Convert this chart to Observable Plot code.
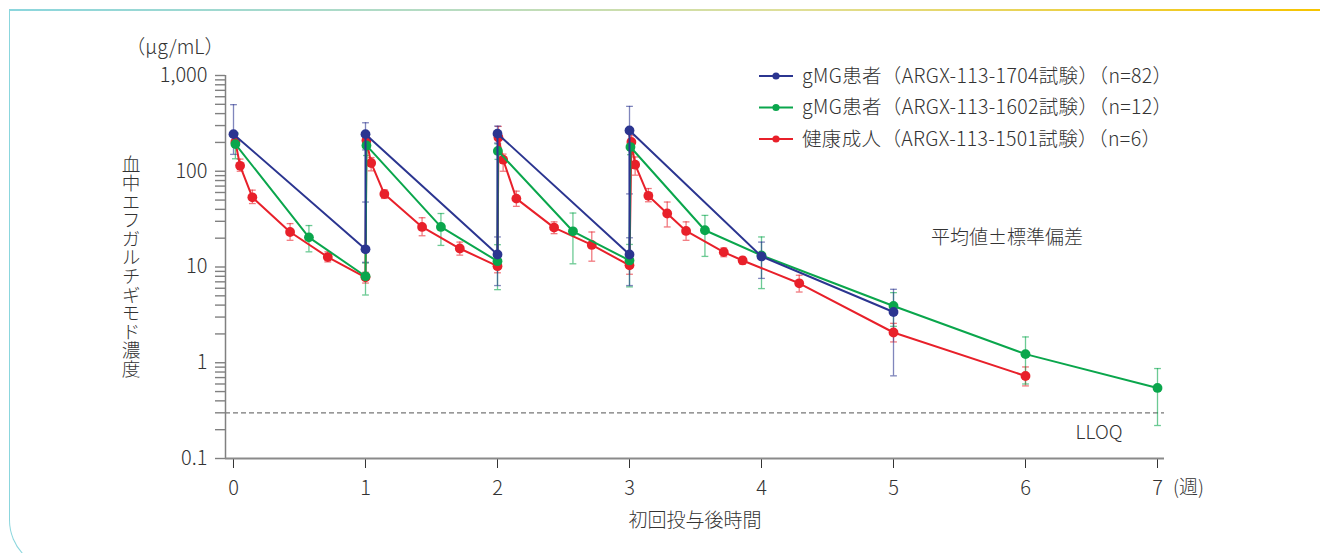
<!DOCTYPE html>
<html lang="ja">
<head>
<meta charset="utf-8">
<script src="https://cdn.jsdelivr.net/npm/d3@7"></script>
<script src="https://cdn.jsdelivr.net/npm/@observablehq/plot@0.6"></script>
<style>
  html, body { margin: 0; padding: 0; background: #fff; }
  #wrap { position: relative; width: 1320px; height: 553px; overflow: hidden; }
  #frame-top { position: absolute; left: 9px; top: 9px; width: 1311px; height: 2px;
    background: linear-gradient(to right, #8bd6dd 0%, #b9dcc0 35%, #dfdf98 60%, #f6c400 100%); }
  #frame-side { position: absolute; left: 9px; top: 9px; width: 1400px; height: 561px;
    border-left: 1.5px solid #8bd6dd; border-bottom: 1.5px solid #8bd6dd;
    border-bottom-left-radius: 50px; box-sizing: border-box; }
  svg text { font-weight: 300; }
</style>
</head>
<body>
<div id="wrap">
  <div id="chart"></div>
  <div id="frame-side"></div>
  <div id="frame-top"></div>
</div>
<script>
// Serum efgartigimod concentration (µg/mL), mean with SD bars, by day since first dose.
// ARGX-113-1704 (gMG patients, n=82)
const days1704 = [0, 7, 7, 14, 14, 21, 21, 28, 35];
const mean1704 = [244, 15.3, 244, 13.5, 247, 13.5, 267, 12.9, 3.39];
const low1704  = [150, 11.2, 167, 6.4, 197, 6.4, 58, 7.6, 0.73];
const high1704 = [496, 47.7, 321, 20.6, 296, 20.2, 476, 18.2, 5.85];

// ARGX-113-1602 (gMG patients, n=12)
const days1602 = [0.1, 4, 7, 7.05, 11, 14, 14.02, 18, 21, 21.05, 25, 28, 35, 42, 49];
const mean1602 = [192, 20.4, 8.0, 186, 26.2, 11.5, 163, 23.6, 11.7, 179, 24.2, 13.2, 3.92, 1.23, 0.546];
const low1602  = [135, 14.4, 5.1, 146, 16.8, 5.8, 133, 10.8, 6.2, 149, 12.9, 5.95, 2.4, 0.6, 0.221];
const high1602 = [250, 27.1, 11.0, 226, 36.2, 17.1, 193, 36.6, 17.2, 209, 34.6, 20.6, 5.4, 1.86, 0.87];

// ARGX-113-1501 (healthy volunteers, n=6)
const days1501 = [0.1, 0.35, 1, 3, 5, 7, 7.05, 7.3, 8, 10, 12, 14, 14.05, 14.3, 15, 17, 19, 21, 21.1, 21.3, 22, 23, 24, 26, 27, 30, 35, 42];
const mean1501 = [202, 114, 53.4, 23.2, 12.7, 7.8, 210, 122, 57.8, 26.2, 15.6, 10.2, 225, 132, 51.8, 25.8, 17.0, 10.4, 202, 117, 55.4, 36.2, 23.8, 14.3, 11.7, 6.76, 2.07, 0.727];
const low1501  = [185, 100, 46, 19, 11.3, 6.8, 180, 101, 52, 21.2, 13.3, 8.7, 160, 100, 43, 22.3, 11.5, 8.4, 170, 91, 48, 26.2, 19, 12.8, 10.7, 5.48, 1.65, 0.573];
const high1501 = [220, 134, 63.5, 28.4, 14.4, 8.8, 240, 139, 64, 32.7, 18.2, 11.7, 294, 151, 62, 29.6, 23.2, 12.4, 235, 141, 66, 47.7, 29.6, 15.8, 12.7, 8.2, 2.58, 0.904];

const legendLabels = [
  "gMG患者（ARGX-113-1704試験）（n=82）",
  "gMG患者（ARGX-113-1602試験）（n=12）",
  "健康成人（ARGX-113-1501試験）（n=6）"
];
const seriesColors = ["#2b3590", "#0aa64c", "#e8202a"];

const weekTicks = [0, 1, 2, 3, 4, 5, 6, 7];
const yLabelTicks = [0.1, 1, 10, 100, 1000];
const LLOQ = 0.3;

const FONT = "'Noto Sans CJK JP', 'Noto Sans', sans-serif";
const X_DOMAIN = [-0.0606, 7.053];

// minor log ticks 1..9 per decade
const yTicks = [];
for (const base of yLabelTicks.slice(0, -1)) for (let m = 1; m <= 9; m++) yTicks.push(m * base);
yTicks.push(1000);
const isLabelTick = v => yLabelTicks.some(t => Math.abs(Math.log10(v) - Math.log10(t)) < 1e-6);

function rows(days, mean, low, high) {
  return days.map((d, i) => ({ week: d / 7, mean: mean[i], low: low[i], high: high[i] }));
}
const series = [
  { color: seriesColors[2], data: rows(days1501, mean1501, low1501, high1501) },
  { color: seriesColors[1], data: rows(days1602, mean1602, low1602, high1602) },
  { color: seriesColors[0], data: rows(days1704, mean1704, low1704, high1704) }
];

// short horizontal cap for error bars
const capSymbol = {
  draw(context, size) {
    const w = Math.sqrt(size / Math.PI);
    context.moveTo(-w, 0);
    context.lineTo(w, 0);
  }
};

const errorMarks = series.flatMap(s => [
  Plot.ruleX(s.data, { x: "week", y1: "low", y2: "high", stroke: s.color, strokeWidth: 1.3, strokeOpacity: 0.6 }),
  Plot.dot(s.data, { x: "week", y: "low", symbol: capSymbol, r: 3.4, stroke: s.color, strokeWidth: 1.3, strokeOpacity: 0.6 }),
  Plot.dot(s.data, { x: "week", y: "high", symbol: capSymbol, r: 3.4, stroke: s.color, strokeWidth: 1.3, strokeOpacity: 0.6 })
]);
const seriesMarks = series.flatMap(s => [
  Plot.line(s.data, { x: "week", y: "mean", stroke: s.color, strokeWidth: 2 }),
  Plot.dot(s.data, { x: "week", y: "mean", r: 4.9, fill: s.color, stroke: "none" })
]);

const chart = Plot.plot({
  width: 1320,
  height: 553,
  marginLeft: 225,
  marginRight: 156,
  marginTop: 75,
  marginBottom: 95,
  style: { fontFamily: FONT, fontSize: "19px", color: "#333", background: "transparent" },
  x: { domain: X_DOMAIN },
  y: { type: "log", domain: [0.1, 1000] },
  marks: [
    Plot.ruleY([LLOQ], { stroke: "#777", strokeWidth: 1.3, strokeDasharray: "5,3" }),
    Plot.axisY({ ticks: yTicks, tickSize: 10, tickPadding: 8, stroke: "#808080", strokeWidth: 1.4,
      fontSize: 20, tickFormat: v => isLabelTick(v) ? d3.format(",")(v) : "", label: null }),
    Plot.axisX({ ticks: weekTicks, tickSize: 10, tickPadding: 12, stroke: "#333", strokeWidth: 1,
      fontSize: 20, tickFormat: d => String(d), label: null }),
    Plot.ruleX([X_DOMAIN[0]], { stroke: "#808080", strokeWidth: 1.5 }),
    Plot.ruleY([0.1], { stroke: "#8a8a8a", strokeWidth: 2.2 }),
    ...errorMarks,
    ...seriesMarks
  ]
});
document.getElementById("chart").appendChild(chart);

// annotations, titles and legend
const svg = d3.select(chart);
const txt = (x, y, s, anchor = "start", size = "19px") => svg.append("text")
  .attr("x", x).attr("y", y).attr("dy", "0.35em")
  .attr("text-anchor", anchor).attr("fill", "#333")
  .style("font-family", FONT).style("font-size", size).text(s);

txt(224, 47, "（μg/mL）", "end", "19.5px");
txt(1173, 487, "(週)");
txt(695, 520, "初回投与後時間", "middle");
txt(1007, 237, "平均値±標準偏差", "middle");
txt(1099, 432, "LLOQ", "middle");

svg.append("text")
  .attr("x", 131).attr("y", 155)
  .attr("text-anchor", "start")
  .attr("fill", "#333")
  .style("font-family", FONT).style("font-size", "18.6px")
  .style("writing-mode", "vertical-rl")
  .text("血中エフガルチギモド濃度");

const legend = svg.append("g");
legendLabels.forEach((label, i) => {
  const y = 76 + i * 31.5;
  legend.append("line").attr("x1", 759).attr("x2", 793).attr("y1", y).attr("y2", y)
    .attr("stroke", seriesColors[i]).attr("stroke-width", 2);
  legend.append("circle").attr("cx", 776).attr("cy", y).attr("r", 3.6).attr("fill", seriesColors[i]);
  legend.append("text").attr("x", 802).attr("y", y).attr("dy", "0.35em")
    .attr("text-anchor", "start").attr("fill", "#333")
    .style("font-family", FONT).style("font-size", "19.5px").style("letter-spacing", "0.35px")
    .text(label);
});
</script>
</body>
</html>
